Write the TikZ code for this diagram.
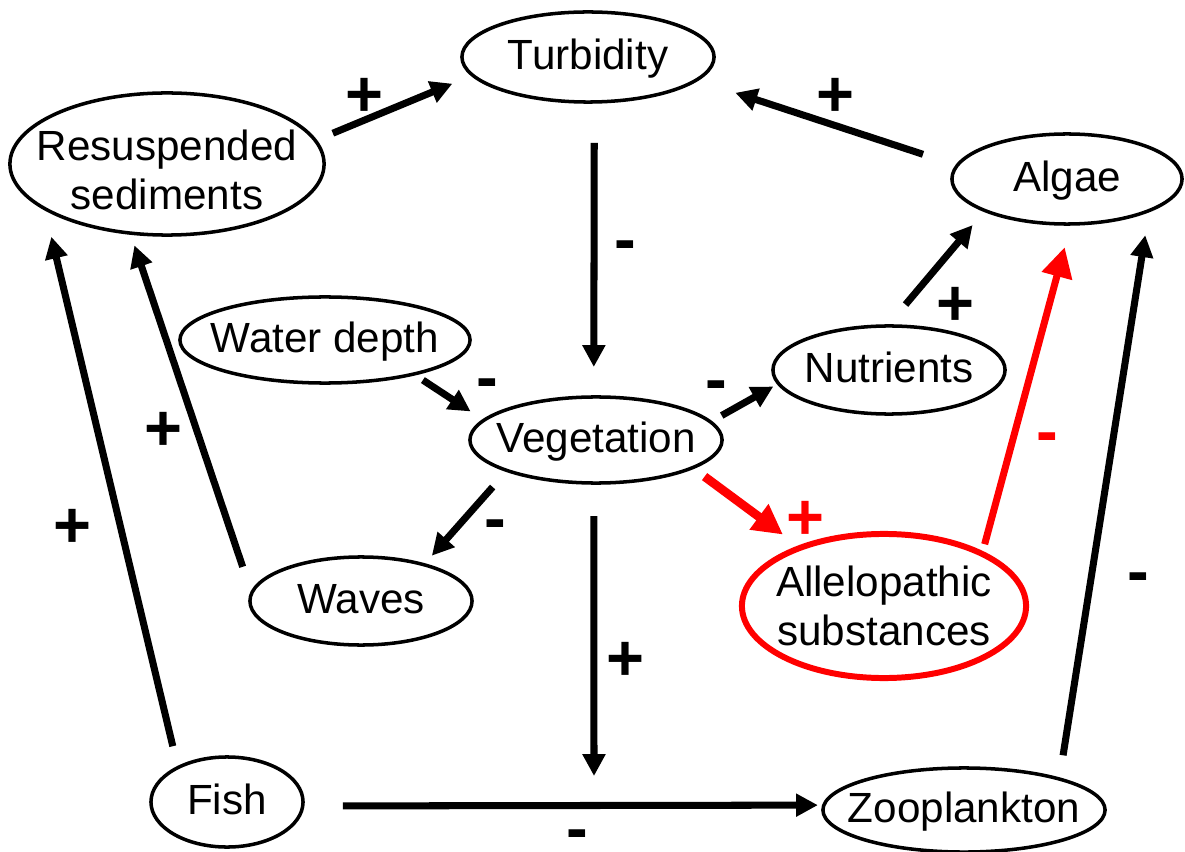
\documentclass[tikz,border=0pt]{standalone}
\usepackage{fontspec}
\setmainfont{Liberation Sans}
\usetikzlibrary{shapes.geometric, arrows.meta}

\begin{document}
\begin{tikzpicture}[
    x=0.01cm, y=-0.01cm,
    factor/.style={draw, ellipse, line width=1pt, inner sep=-5mm, outer sep=0pt, font=\fontsize{12}{13.9}\selectfont, align=center},
    oneline/.style={text height=9pt, text depth=2pt},
    arr/.style={-{Triangle[length=6.2pt, width=6.2pt]}, line width=2pt},
    redarr/.style={-{Triangle[length=8.5pt, width=8.5pt]}, line width=2.5pt, red},
    sign/.style={font=\fontsize{18.5}{18.5}\selectfont\bfseries, inner sep=0pt, text height=13pt, text depth=0pt},
    minus/.style={font=\fontsize{18.5}{18.5}\selectfont\bfseries, inner sep=0pt, text height=7pt, text depth=0pt},
]
    \useasboundingbox (0,0) rectangle (1185,852);

    \node[factor, oneline, minimum width=2.52cm, minimum height=0.90cm] (turb) at (588,57) {Turbidity};
    \node[factor, minimum width=3.14cm, minimum height=1.42cm] (resusp) at (167,164) {\rule{0pt}{12pt}Resuspended\\sediments};
    \node[factor, oneline, minimum width=2.30cm, minimum height=0.90cm] (algae) at (1067,179) {Algae};
    \node[factor, oneline, minimum width=2.90cm, minimum height=0.86cm] (depth) at (325,340) {Water depth};
    \node[factor, oneline, minimum width=2.32cm, minimum height=0.88cm] (nutr) at (889,370) {Nutrients};
    \node[factor, oneline, minimum width=2.52cm, minimum height=0.86cm] (veg) at (596,440) {Vegetation};
    \node[factor, oneline, minimum width=2.22cm, minimum height=0.88cm] (waves) at (361,601) {Waves};
    \node[factor, draw=red, line width=1.7pt, minimum width=2.84cm, minimum height=1.44cm] (allelo) at (884,606) {Allelopathic\\substances};
    \node[factor, oneline, minimum width=1.52cm, minimum height=0.90cm] (fish) at (227,802) {Fish};
    \node[factor, oneline, minimum width=2.82cm, minimum height=0.84cm] (zoo) at (964,810) {Zooplankton};

    \coordinate (link) at (594,776);

    \draw[arr, shorten <=0.19cm, shorten >=0.22cm] (resusp.9) -- (turb.189);
    \draw[arr, shorten <=0.36cm, shorten >=0.41cm] (algae.173) -- (turb.-12);
    \draw[arr, shorten <=0.41cm, shorten >=0.30cm] (turb.-82) -- (veg.93);
    \draw[arr, shorten <=0.11cm, shorten >=0.16cm] (depth.-21) -- (veg.170);
    \draw[arr, shorten <=0.13cm, shorten >=0.06cm] (veg.9) -- (nutr.187);
    \draw[arr, shorten <=0.28cm, shorten >=0.19cm] (nutr.92) -- (algae.201);
    \draw[arr, shorten <=0.22cm, shorten >=0.12cm] (veg.199) -- (waves.30);
    \draw[arr, shorten <=0.28cm, shorten >=0.13cm] (waves.176) -- (resusp.242);
    \draw[arr, shorten <=0.22cm, shorten >=0.29cm] (fish.145) -- (resusp.200);
    \draw[arr, shorten <=0.33cm] (veg.267) -- (link);
    \draw[arr, shorten <=0.40cm, shorten >=0.06cm] (fish.-3) -- (zoo.178);
    \draw[arr, shorten <=0.24cm, shorten >=0.25cm] (zoo.18) -- (algae.-21);

    % allelopathy pathway
    \draw[redarr, shorten <=0.15cm, shorten >=0.22cm] (veg.-16) -- (allelo.145);
    \draw[redarr, line width=2pt, shorten <=0.10cm, shorten >=0.24cm] (allelo.28) -- (algae.-85);

    \node[sign] (s-rt) at (364,94) {+};
    \node[sign] (s-at) at (835,94) {+};
    \node[sign] (s-na) at (955,303) {+};
    \node[sign] (s-wr) at (163,428) {+};
    \node[sign] (s-fr) at (72,525) {+};
    \node[sign] (s-vl) at (625,658) {+};
    \node[sign, red] (s-va) at (805,517) {+};

    \node[minus] (s-tv) at (625,249) {-};
    \node[minus] (s-dv) at (487,387) {-};
    \node[minus] (s-vn) at (716,389) {-};
    \node[minus] (s-vw) at (495,528) {-};
    \node[minus] (s-fz) at (577,838) {-};
    \node[minus] (s-za) at (1138,581) {-};
    \node[minus, red] (s-la) at (1047,441) {-};
\end{tikzpicture}
\end{document}
